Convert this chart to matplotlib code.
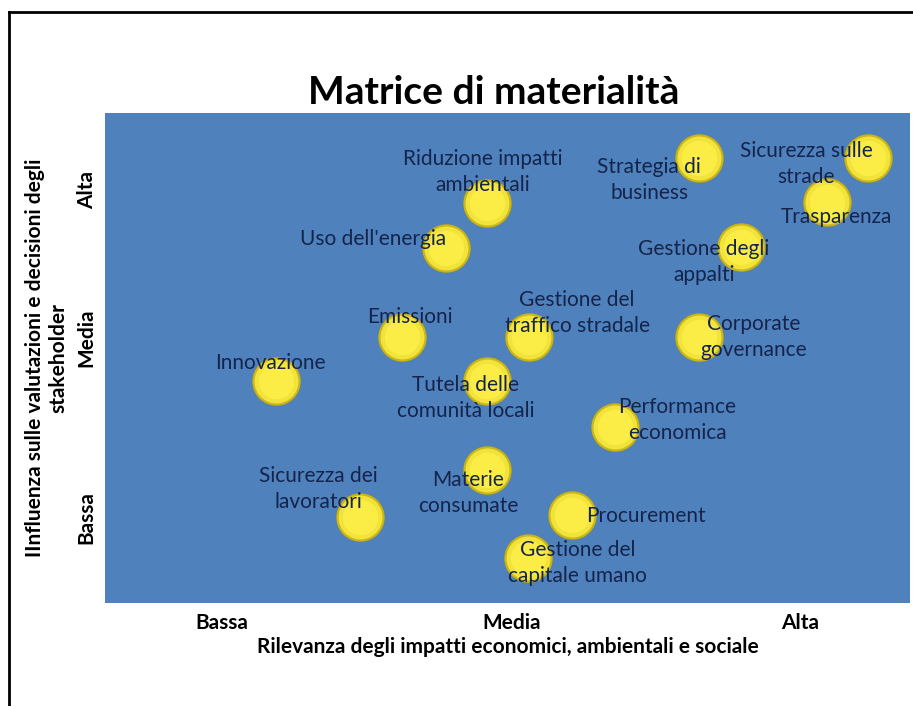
import matplotlib
matplotlib.use('Agg')
import matplotlib.pyplot as plt
from matplotlib.lines import Line2D

# topics of the materiality matrix
temi = ['Sicurezza sulle\nstrade', 'Strategia di\nbusiness', 'Trasparenza',
        'Riduzione impatti\nambientali', "Uso dell'energia", 'Gestione degli\nappalti',
        'Emissioni', 'Gestione del\ntraffico stradale', 'Corporate\ngovernance',
        'Innovazione', 'Tutela delle\ncomunità locali', 'Performance\neconomica',
        'Materie\nconsumate', 'Sicurezza dei\nlavoratori', 'Procurement',
        'Gestione del\ncapitale umano']
# rilevanza impatti (x) and influenza stakeholder (y), scale 0-10
rilevanza = [9.48, 7.38, 8.97, 4.75, 4.23, 7.90, 3.69, 5.27, 7.38,
             2.13, 4.75, 6.33, 4.75, 3.17, 5.80, 5.26]
influenza = [9.08, 9.08, 8.18, 8.16, 7.24, 7.27, 5.43, 5.43, 5.43,
             4.53, 4.53, 3.59, 2.71, 1.76, 1.80, 0.92]
livelli = ['Bassa', 'Media', 'Alta']
x_livelli = [1.45, 5.05, 8.64]
y_livelli = [1.75, 5.42, 8.42]

# label offsets in pixels (dx right, dy down)
offs = [(-62, 6), (-50, 22), (9, 15), (-5, -31), (-72, -9), (-37, 15),
        (8, -20), (48, -24), (55, 0), (-6, -18), (-22, 17), (63, -7),
        (-19, 23), (-42, -28), (74, 1), (49, 5)]

W, H = 913, 706
fig = plt.figure(figsize=(W / 100, H / 100), dpi=100)
fig.patch.set_facecolor('white')
plt.rcParams['font.family'] = ['Lato', 'DejaVu Sans']

# page frame (left and top edges)
fig.add_artist(Line2D([9 / W, 9 / W], [0, 1 - 12 / H], color='black', lw=2,
                      transform=fig.transFigure))
fig.add_artist(Line2D([9 / W, 1], [1 - 12 / H, 1 - 12 / H], color='black', lw=2,
                      transform=fig.transFigure))

ax = fig.add_axes([105 / W, 1 - 603 / H, (910 - 105) / W, (603 - 113) / H])
ax.set_facecolor('#4F81BD')
for s in ax.spines.values():
    s.set_visible(False)
ax.set_xlim(0, 10)
ax.set_ylim(0, 10)

# bubbles: shadow, body, highlight
ax.scatter(rilevanza, influenza, s=1250, color='#9c8f1a', alpha=0.55, zorder=2,
           linewidths=0)
ax.scatter(rilevanza, influenza, s=1100, color='#f2e33a', edgecolors='#c9b51c',
           linewidths=1.5, zorder=3)
ax.scatter(rilevanza, influenza, s=650, color='#fff04a', linewidths=0, zorder=3,
           alpha=0.8)

for t, x, y, (dx, dy) in zip(temi, rilevanza, influenza, offs):
    ax.annotate(t, (x, y), xytext=(dx * 0.72, -dy * 0.72), textcoords='offset points',
                ha='center', va='center', fontsize=15, color='#15244a',
                linespacing=1.4, zorder=4)

ax.set_xticks(x_livelli)
ax.set_xticklabels(livelli, fontsize=15, fontweight='bold')
ax.set_yticks(y_livelli)
ax.set_yticklabels(livelli, fontsize=15, fontweight='bold', rotation=90, va='center')
ax.tick_params(length=0)
ax.tick_params(axis='x', pad=7)
ax.tick_params(axis='y', pad=6)

ax.set_xlabel('Rilevanza degli impatti economici, ambientali e sociale',
              fontsize=15, fontweight='bold', labelpad=3)
ax.set_ylabel('IInfluenza sulle valutazioni e decisioni degli\nstakeholder',
              fontsize=15, fontweight='bold', labelpad=6, linespacing=1.2)

fig.text(494 / W, 1 - 93 / H, 'Matrice di materialità', ha='center', va='center',
         fontsize=28, fontweight='bold')

fig.savefig('out.png', dpi=100)
